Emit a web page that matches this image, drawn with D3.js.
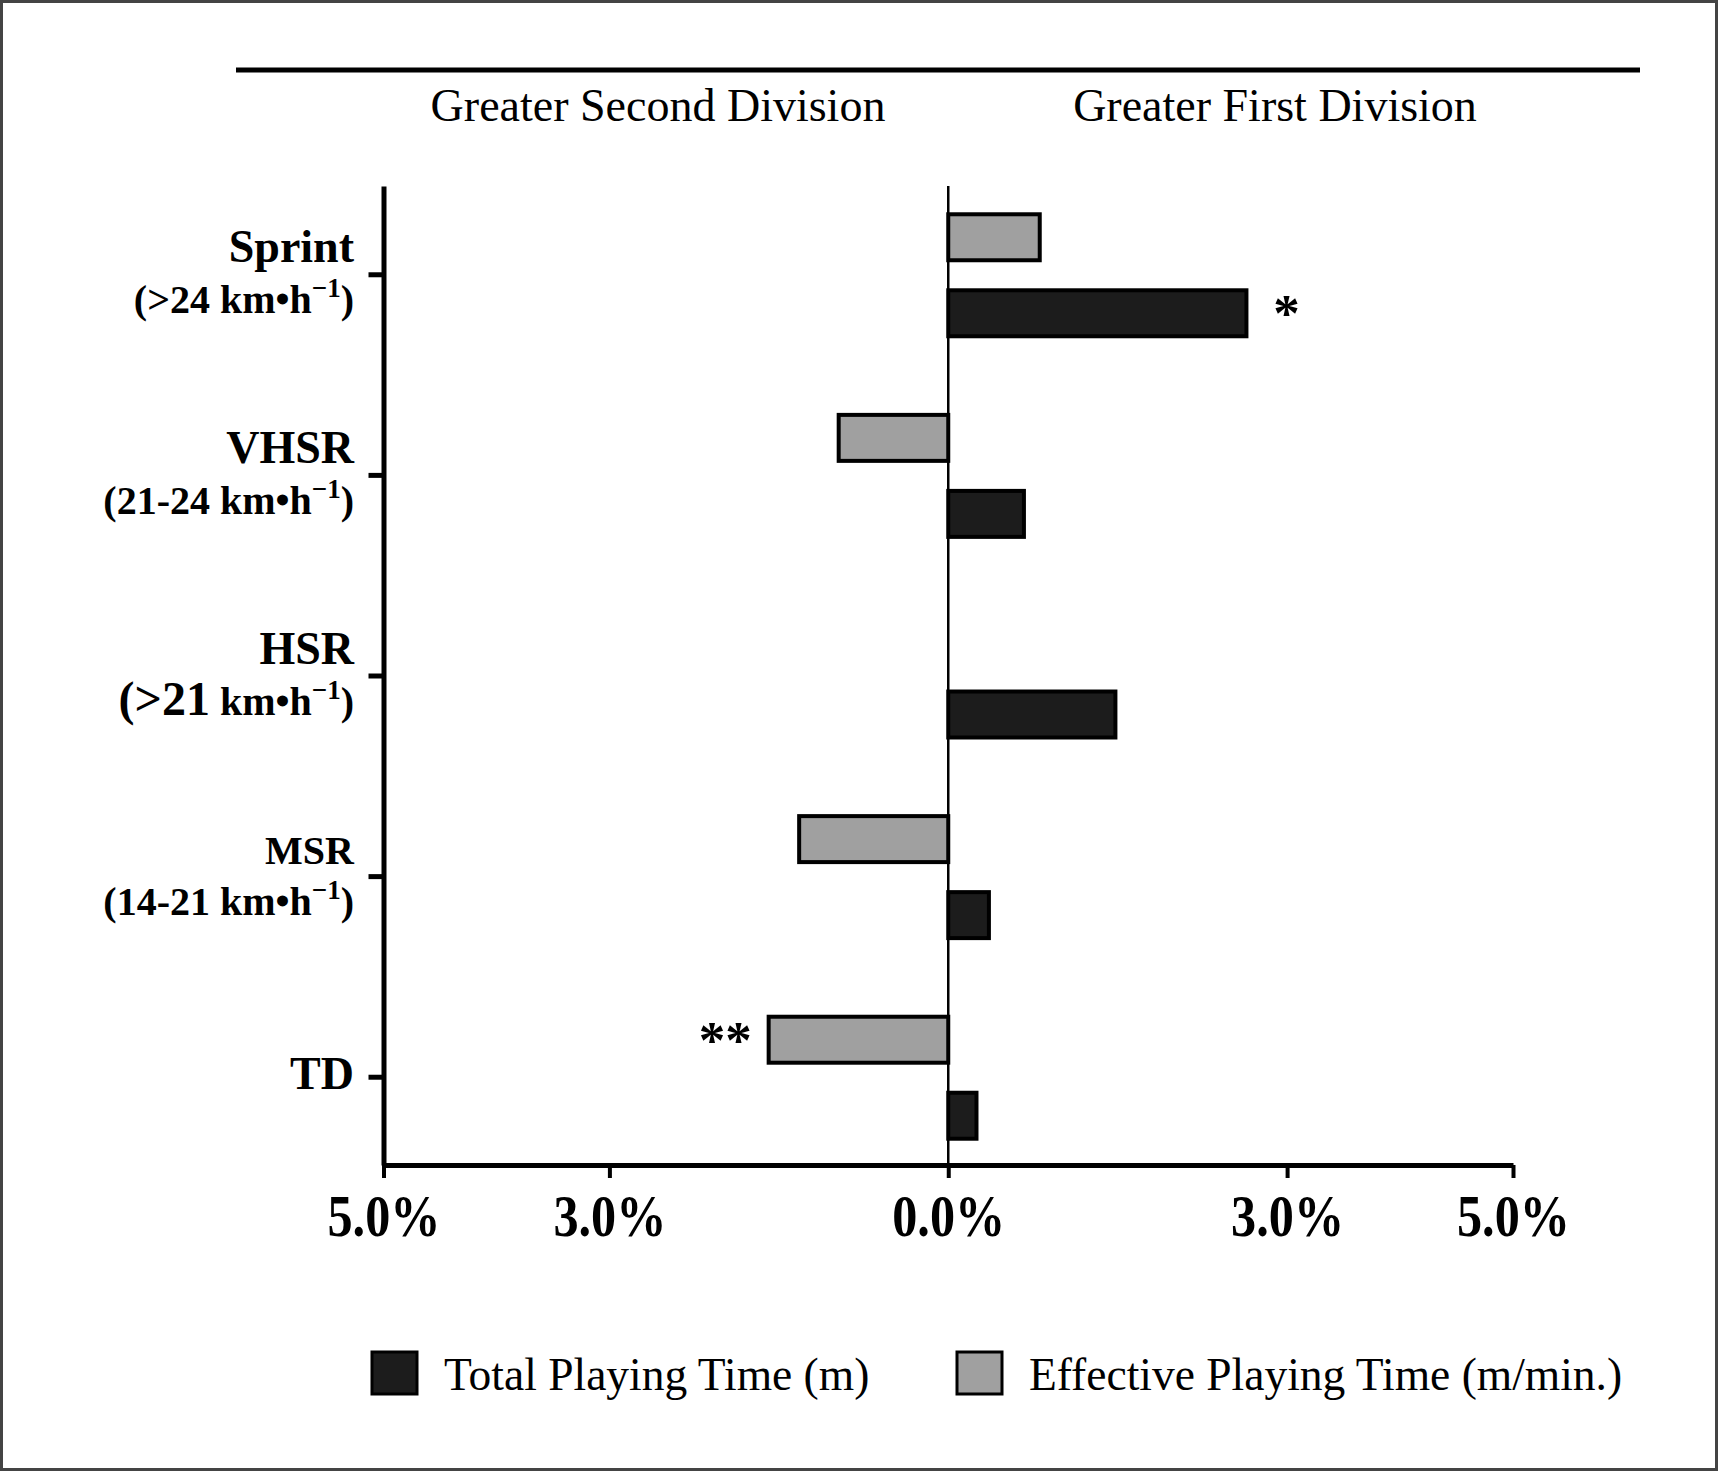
<!DOCTYPE html>
<html>
<head>
<meta charset="utf-8">
<script src="https://cdn.jsdelivr.net/npm/d3@7"></script>
<style>
body { margin: 0; background: #fff; }
svg text { font-family: "Liberation Serif", "Times New Roman", serif; fill: #000; }
</style>
</head>
<body>
<div id="div_graph_id"></div>
<script>
// data (% difference, first vs second division)
var categories = ["Sprint", "VHSR", "HSR", "MSR", "TD"];
var subLabels = ["(>24 km•h", "(21-24 km•h", "(>21 km•h", "(14-21 km•h", ""];
var seriesKeys = ["effective", "total"];
var seriesNames = ["Effective Playing Time (m/min.)", "Total Playing Time (m)"];
var effectiveValues = [0.81, -0.97, 0, -1.32, -1.59];
var totalValues = [2.64, 0.67, 1.48, 0.36, 0.25];
var effectiveMarks = ["", "", "", "", "**"];
var totalMarks = ["*", "", "", "", ""];
var tickValues = [-5, -3, 0, 3, 5];
var sideLabels = ["Greater Second Division", "Greater First Division"];

var chart = {};

chart.init = function() {
    var width = 1718, height = 1471;
    var fills = {effective: "#a0a0a0", total: "#1c1c1c"};

    var svg = d3.select("#div_graph_id")
        .append("svg")
        .attr("width", width)
        .attr("height", height);

    // frame
    svg.append("rect")
        .attr("x", 1.5).attr("y", 1.5)
        .attr("width", width - 3).attr("height", height - 3)
        .attr("fill", "none")
        .attr("stroke", "#444")
        .attr("stroke-width", 3);

    var x = d3.scaleLinear()
        .domain([-5, 5])
        .range([383.5, 1513]);

    var y = d3.scalePoint()
        .domain(categories)
        .range([186, 1165])
        .padding(0.44);

    var inner = d3.scaleBand()
        .domain(seriesKeys)
        .range([-60, 62])
        .paddingInner(0.395);

    // header line + side labels
    svg.append("line")
        .attr("x1", 236).attr("x2", 1640)
        .attr("y1", 70).attr("y2", 70)
        .attr("stroke", "#000")
        .attr("stroke-width", 5);

    svg.append("text")
        .attr("x", 658).attr("y", 121)
        .attr("text-anchor", "middle")
        .style("font-size", "46px")
        .text(sideLabels[0]);

    svg.append("text")
        .attr("x", 1275).attr("y", 121)
        .attr("text-anchor", "middle")
        .style("font-size", "46px")
        .text(sideLabels[1]);

    // bars
    var rows = [];
    categories.forEach(function(c, i) {
        rows.push({cat: c, key: "effective", value: effectiveValues[i], mark: effectiveMarks[i]});
        rows.push({cat: c, key: "total", value: totalValues[i], mark: totalMarks[i]});
    });

    svg.append("g")
        .selectAll("rect")
        .data(rows.filter(function(d) { return d.value !== 0; }))
        .enter()
        .append("rect")
        .attr("x", function(d) { return x(Math.min(0, d.value)); })
        .attr("width", function(d) { return Math.abs(x(d.value) - x(0)); })
        .attr("y", function(d) { return y(d.cat) + inner(d.key); })
        .attr("height", inner.bandwidth())
        .attr("fill", function(d) { return fills[d.key]; })
        .attr("stroke", "#000")
        .attr("stroke-width", 4);

    // significance marks
    svg.append("g")
        .selectAll("text")
        .data(rows.filter(function(d) { return d.mark !== ""; }))
        .enter()
        .append("text")
        .attr("x", function(d) { return d.value > 0 ? x(d.value) + 40 : x(d.value) - 17; })
        .attr("y", function(d) { return y(d.cat) + inner(d.key) + inner.bandwidth() / 2 + 18; })
        .attr("text-anchor", function(d) { return d.value > 0 ? "middle" : "end"; })
        .style("font-size", "53px")
        .style("font-weight", "bold")
        .text(function(d) { return d.mark; });

    // zero line
    svg.append("line")
        .attr("x1", x(0)).attr("x2", x(0))
        .attr("y1", 186).attr("y2", 1165)
        .attr("stroke", "#000")
        .attr("stroke-width", 2.5);

    // y axis
    var yAxis = svg.append("g")
        .attr("transform", "translate(" + x(-5) + ",0)")
        .call(d3.axisLeft(y).tickSize(15).tickSizeOuter(0).tickFormat(""));
    yAxis.select(".domain").attr("stroke-width", 5);
    yAxis.selectAll(".tick line").attr("stroke-width", 5);

    // x axis
    var xAxis = svg.append("g")
        .attr("transform", "translate(0,1165)")
        .call(d3.axisBottom(x)
            .tickValues(tickValues)
            .tickSize(13)
            .tickSizeOuter(0)
            .tickFormat(function(d) { return Math.abs(d).toFixed(1) + "%"; }));
    xAxis.select(".domain").attr("stroke-width", 5);
    xAxis.selectAll(".tick line").attr("stroke-width", 4);
    xAxis.selectAll(".tick text")
        .attr("y", 28)
        .attr("font-family", null)
        .attr("font-size", null)
        .style("font-size", "60px")
        .style("font-weight", "bold")
        .attr("textLength", 113)
        .attr("lengthAdjust", "spacingAndGlyphs");

    // category labels (two lines)
    var labels = svg.append("g")
        .selectAll("g")
        .data(categories)
        .enter()
        .append("g")
        .attr("transform", function(d) { return "translate(354," + y(d) + ")"; });

    labels.append("text")
        .attr("text-anchor", "end")
        .attr("y", function(d, i) { return subLabels[i] === "" ? 12 : -12; })
        .style("font-size", function(d) { return d === "MSR" ? "40px" : "46px"; })
        .style("font-weight", "bold")
        .text(function(d) { return d; });

    var sub = labels.filter(function(d, i) { return subLabels[i] !== ""; })
        .append("text")
        .attr("text-anchor", "end")
        .attr("y", 39)
        .style("font-size", "40px")
        .style("font-weight", "bold");

    sub.append("tspan")
        .style("font-size", function(d) { return d === "HSR" ? "48px" : "40px"; })
        .text(function(d) { return subLabels[categories.indexOf(d)].split(" ")[0]; });
    sub.append("tspan")
        .text(function(d) { return " " + subLabels[categories.indexOf(d)].split(" ")[1]; });
    sub.append("tspan")
        .attr("dy", -16)
        .style("font-size", "27px")
        .text("\u22121");
    sub.append("tspan")
        .attr("dy", 16)
        .text(")");

    // legend
    var legendKeys = ["total", "effective"];
    var legendX = [372, 957];
    var legend = svg.append("g")
        .selectAll("g")
        .data(legendKeys)
        .enter()
        .append("g")
        .attr("transform", function(d, i) { return "translate(" + legendX[i] + ",1352)"; });

    legend.append("rect")
        .attr("width", 45).attr("height", 42)
        .attr("fill", function(d) { return fills[d]; })
        .attr("stroke", "#000")
        .attr("stroke-width", 3);

    legend.append("text")
        .attr("x", 72).attr("y", 38)
        .style("font-size", "45.5px")
        .text(function(d) { return seriesNames[seriesKeys.indexOf(d)]; });
};

chart.init();
</script>
</body>
</html>
